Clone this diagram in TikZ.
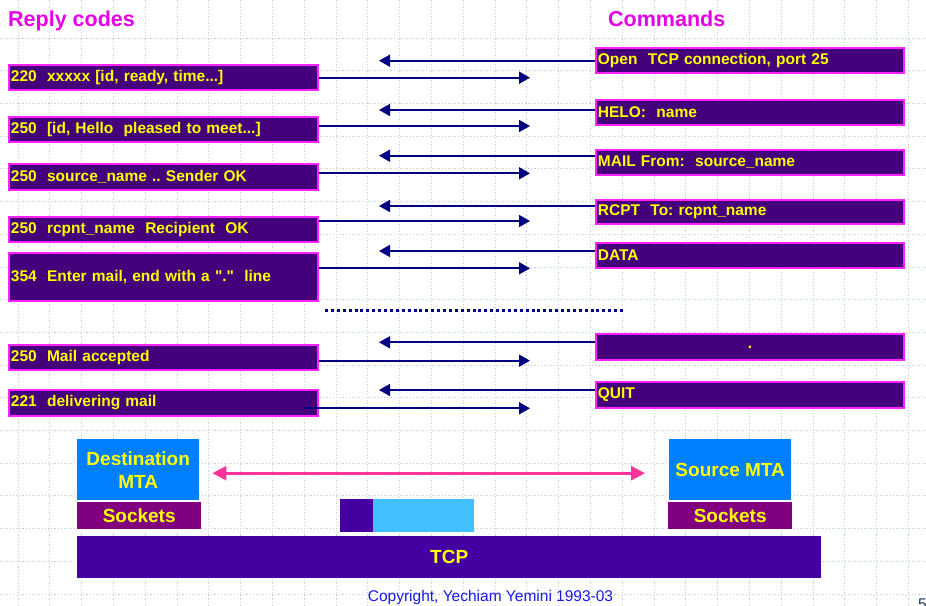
\documentclass[tikz,border=0pt]{standalone}
\usepackage{fontspec}
\setmainfont{Liberation Sans}[Ligatures=TeXOff]
\usetikzlibrary{arrows.meta,calc}
\frenchspacing
\definecolor{boxfill}{HTML}{43007A}
\definecolor{boxline}{HTML}{FF22FF}
\definecolor{txty}{HTML}{FFFF00}
\definecolor{arrc}{HTML}{000080}
\definecolor{gridc}{HTML}{C2D2DC}
\definecolor{titlec}{HTML}{E600E6}
\definecolor{mtablue}{HTML}{0080FF}
\definecolor{sockc}{HTML}{800080}
\definecolor{tcpc}{HTML}{4400A0}
\definecolor{lblue}{HTML}{40C0FF}
\definecolor{pinkc}{HTML}{FF3399}
\definecolor{copyc}{HTML}{1A1AE6}
\definecolor{pagec}{HTML}{203A5A}
\tikzset{
  msg/.style={draw=boxline, line width=1.8pt, fill=boxfill, text=txty,
    font=\fontsize{15.5}{18}\selectfont\bfseries\frenchspacing, anchor=north west,
    inner xsep=2pt, inner ysep=0pt, align=left, minimum height=25pt},
  lmsg/.style={msg, text width=305pt},
  rmsg/.style={msg, text width=304pt},
  arr/.style={draw=arrc, line width=1.7pt, -{Triangle[length=11pt,width=12pt]}},
  pinkarr/.style={draw=pinkc, line width=2.8pt,
    {Triangle[length=14pt,width=14pt]}-{Triangle[length=14pt,width=14pt]}},
  gridline/.style={draw=gridc, line width=0.8pt, dash pattern=on 1.2pt off 2pt},
  title/.style={text=titlec, font=\fontsize{21.5}{24}\selectfont\bfseries, anchor=base west, inner sep=0pt},
  blk/.style={anchor=north west, inner sep=0pt, text=txty,
    font=\fontsize{19}{23}\selectfont\bfseries, align=center},
}
\begin{document}
\begin{tikzpicture}[x=1pt,y=-1pt]
\useasboundingbox (0,0) rectangle (926,605);
\fill[white] (0,0) rectangle (926,605);
% background grid
\foreach \k in {0,...,28} \draw[gridline] ({18+31.8*\k},0) -- ({18+31.8*\k},605);
\foreach \k in {0,...,17} \draw[gridline] (0,{38+32.7*\k}) -- (926,{38+32.7*\k});

% titles
\node[title] (rc) at (8,26) {Reply codes};
\node[title] (cm) at (608,26) {Commands};

% reply boxes
\node[lmsg] (l1) at (8,64) {220~~xxxxx [id, ready, time...]};
\node[lmsg] (l2) at (8,116) {250~~[id, Hello~~pleased to meet...]};
\node[lmsg, minimum height=26pt] (l3) at (8,163) {250~~source\_name .. Sender OK};
\node[lmsg] (l4) at (8,216) {250~~rcpnt\_name~~Recipient~~OK};
\node[lmsg, minimum height=48pt] (l5) at (8,252) {354~~Enter mail, end with a ".\kern0pt"~~line};
\node[lmsg] (l6) at (8,344) {250~~Mail accepted};
\node[lmsg, minimum height=26pt] (l7) at (8,389) {221~~delivering mail};

% command boxes
\node[rmsg] (r1) at (595,47) {Open~~TCP connection, port 25};
\node[rmsg] (r2) at (595,99) {HELO:~~name};
\node[rmsg] (r3) at (595,149) {MAIL From:~~source\_name};
\node[rmsg, minimum height=24pt] (r4) at (595,199) {RCPT~~To: rcpnt\_name};
\node[rmsg] (r5) at (595,242) {DATA};
\node[rmsg, minimum height=26pt, align=center] (r6) at (595,333) {.};
\node[rmsg, minimum height=26pt] (r7) at (595,381) {QUIT};

% arrow tips
\coordinate (a1) at (530,77.7);
\coordinate (a2) at (530,126);
\coordinate (a3) at (530,173.3);
\coordinate (a4) at (530,221);
\coordinate (a5) at (530,268.3);
\coordinate (a6) at (530,360.7);
\coordinate (a7) at (530,408.3);
\coordinate (b1) at (379,60.7);
\coordinate (b2) at (379,110);
\coordinate (b3) at (379,155.7);
\coordinate (b4) at (379,206);
\coordinate (b5) at (379,251);
\coordinate (b6) at (379,342.3);
\coordinate (b7) at (379,390);
\coordinate (s7) at ([xshift=-15pt]l7.east);

\draw[arr] (r1.west |- b1) -- (b1);
\draw[arr] (l1.east |- a1) -- (a1);
\draw[arr] (r2.west |- b2) -- (b2);
\draw[arr] (l2.east |- a2) -- (a2);
\draw[arr] (r3.west |- b3) -- (b3);
\draw[arr] (l3.east |- a3) -- (a3);
\draw[arr] (r4.west |- b4) -- (b4);
\draw[arr] (l4.east |- a4) -- (a4);
\draw[arr] (r5.west |- b5) -- (b5);
\draw[arr] (l5.east |- a5) -- (a5);
\draw[arr] (r6.west |- b6) -- (b6);
\draw[arr] (l6.east |- a6) -- (a6);
\draw[arr] (r7.west |- b7) -- (b7);
\draw[arr] (s7 |- a7) -- (a7);

% dotted separator
\coordinate (d1) at (325,310);
\coordinate (d2) at (625,310);
\draw[draw=arrc, line width=3pt, dash pattern=on 3pt off 2.9pt] (d1) -- (d2);

% bottom stack
\node[blk, fill=mtablue, minimum width=122pt, minimum height=61pt] (dest) at (77,439) {Destination\\MTA};
\node[blk, fill=sockc, minimum width=124pt, minimum height=27pt] (sock1) at (77,502) {Sockets};
\node[blk, fill=mtablue, minimum width=122pt, minimum height=61pt] (src) at (669,439) {Source MTA};
\node[blk, fill=sockc, minimum width=124pt, minimum height=27pt] (sock2) at (668,502) {Sockets};
\node[blk, fill=tcpc, minimum width=744pt, minimum height=42pt] (tcp) at (77,536) {TCP};
\node[anchor=north west, inner sep=0pt, fill=tcpc, minimum width=33pt, minimum height=33pt] (bar1) at (340,499) {};
\node[anchor=north west, inner sep=0pt, fill=lblue, minimum width=101pt, minimum height=33pt] (bar2) at (373,499) {};

\draw[pinkarr] ([xshift=13pt,yshift=-3.5pt]dest.east) -- ([xshift=-24pt,yshift=-3.5pt]src.west);

% footer
\node[anchor=base, inner sep=0pt, text=copyc, font=\fontsize{15.5}{18}\selectfont] (copy) at (490.5,601.5) {Copyright, Yechiam Yemini 1993-03};
\node[anchor=base west, inner sep=0pt, text=pagec, font=\fontsize{15.5}{18}\selectfont] (pg) at (918,609) {5};
\end{tikzpicture}
\end{document}
